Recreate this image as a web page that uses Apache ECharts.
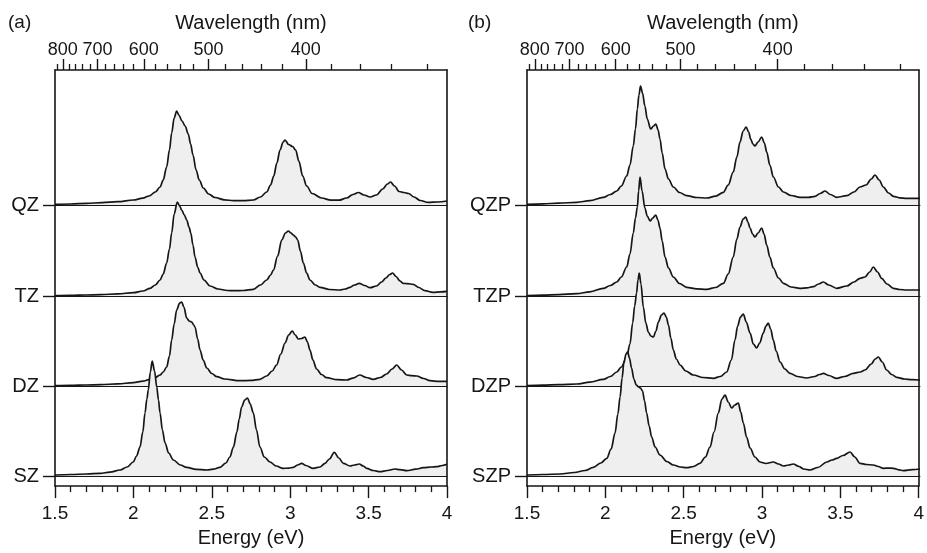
<!DOCTYPE html>
<html>
<head>
<meta charset="utf-8">
<script src="https://cdn.jsdelivr.net/npm/echarts@6/dist/echarts.min.js"></script>
<style>
  html, body { margin: 0; padding: 0; background: #fff; }
  #chart { width: 927px; height: 553px; }
</style>
</head>
<body>
<div id="chart"></div>
<script>
// ---------------- data (energy in eV, intensity in arb. units) ----------------
const energyMin = 1.5, energyMax = 4.0, energyStep = 0.5;
const majorWavelengths = [800, 700, 600, 500, 400];
const minorWavelengths = [820, 780, 760, 740, 720, 680, 660, 640, 620, 580, 560, 540, 520,
                          480, 460, 440, 420, 380, 360, 340, 320];
const namesA = ['QZ', 'TZ', 'DZ', 'SZ'];
const namesB = ['QZP', 'TZP', 'DZP', 'SZP'];

const spectrumQZ = [[1.50,0.7],[1.60,1.0],[1.70,1.6],[1.80,2.4],[1.90,3.3],[2.00,5.0],[2.06,6.8],[2.10,9],[2.14,13],[2.17,18],[2.19,25],[2.212,38],[2.23,55],[2.244,72],[2.26,87],[2.276,94],[2.29,90],[2.31,84],[2.33,79],[2.35,71],[2.365,61],[2.38,50],[2.40,35],[2.42,25],[2.446,17],[2.48,11],[2.52,7.5],[2.58,5.2],[2.64,4.3],[2.70,4.4],[2.765,5],[2.81,8],[2.85,13],[2.875,20],[2.895,29],[2.915,42],[2.935,55],[2.955,63],[2.967,65],[2.99,60.5],[3.015,58.5],[3.035,55],[3.055,44],[3.08,29],[3.105,19],[3.14,11.5],[3.20,7],[3.26,4.8],[3.31,4.8],[3.36,7],[3.40,10.5],[3.435,12.5],[3.47,10],[3.51,8],[3.55,10],[3.59,16],[3.62,21],[3.64,23],[3.665,19],[3.695,13.5],[3.725,12.5],[3.755,11.5],[3.79,8],[3.83,4.5],[3.88,2.6],[3.94,3.0],[4.00,4.0]];

const spectrumTZ = [[1.50,0.3],[1.60,0.6],[1.70,1.0],[1.79,1.3],[1.90,2.2],[2.00,3.3],[2.06,5],[2.106,7.7],[2.14,11],[2.17,16],[2.19,22],[2.212,33],[2.23,47],[2.244,63],[2.26,82],[2.28,94],[2.295,90],[2.308,86],[2.325,81],[2.34,76],[2.355,69],[2.366,63],[2.38,51],[2.393,39],[2.41,29],[2.425,23],[2.45,16],[2.489,10],[2.54,7],[2.60,5.5],[2.64,5.3],[2.70,5.5],[2.765,6.7],[2.81,11],[2.85,16],[2.875,21],[2.893,26],[2.92,40],[2.946,56],[2.97,63],[2.988,65],[3.005,63],[3.02,61],[3.035,59],[3.048,56],[3.065,45],[3.084,33],[3.105,23],[3.126,16],[3.16,11],[3.19,8.7],[3.25,6.5],[3.317,6],[3.35,7],[3.381,8.7],[3.41,11],[3.44,12.7],[3.475,10.5],[3.509,8.3],[3.55,10],[3.583,14],[3.61,18],[3.635,21.5],[3.653,23],[3.675,19.5],[3.70,15],[3.72,12.7],[3.75,12.3],[3.784,11.7],[3.82,8.5],[3.859,5.3],[3.91,3.7],[3.96,4.2],[4.00,4.7]];

const spectrumDZ = [[1.50,0.3],[1.60,0.6],[1.70,1.0],[1.79,1.3],[1.90,2.2],[2.00,3.3],[2.06,4.8],[2.106,6.7],[2.14,8.5],[2.17,11],[2.19,14],[2.212,19],[2.23,30],[2.244,46],[2.26,62],[2.276,76],[2.295,83],[2.308,84],[2.322,79],[2.34,68],[2.356,65],[2.372,64],[2.385,61],[2.393,59],[2.41,47],[2.425,36],[2.445,26],[2.468,18],[2.50,12.5],[2.532,9.3],[2.58,7],[2.68,5.3],[2.75,5.6],[2.807,6.7],[2.85,10],[2.885,15],[2.913,21],[2.94,32],[2.967,43],[2.99,51],[3.013,55],[3.032,51],[3.052,47],[3.072,47.5],[3.094,49],[3.11,44],[3.126,36],[3.145,26],[3.168,17],[3.20,11.5],[3.232,8.3],[3.30,6.3],[3.36,6],[3.40,7.8],[3.444,11],[3.485,8.5],[3.53,6.7],[3.575,8.5],[3.615,12],[3.65,17],[3.679,21],[3.71,16],[3.743,11],[3.775,10.3],[3.807,10],[3.85,7.5],[3.891,5.3],[3.95,4.6],[4.00,4.7]];

const spectrumSZ = [[1.50,1.0],[1.60,1.5],[1.70,2.0],[1.787,2.7],[1.85,3.8],[1.915,6],[1.96,9],[1.999,14],[2.02,20],[2.042,29],[2.06,44],[2.074,63],[2.086,77],[2.095,86],[2.108,104],[2.12,115],[2.135,105],[2.149,89],[2.16,76],[2.17,63],[2.185,46],[2.202,33],[2.225,23],[2.255,16],[2.30,11],[2.34,8.7],[2.40,6.6],[2.468,6],[2.51,6.8],[2.552,8.7],[2.59,13],[2.615,19],[2.638,29],[2.66,44],[2.675,57],[2.69,69],[2.71,76],[2.728,78],[2.745,72],[2.765,63],[2.785,46],[2.807,29],[2.835,19],[2.871,14],[2.91,10],[2.955,7.7],[2.99,7.8],[3.02,8.7],[3.048,11],[3.073,12.7],[3.10,10.5],[3.147,7.7],[3.19,9],[3.222,12.7],[3.25,17],[3.281,23.7],[3.31,18],[3.339,12.7],[3.381,10],[3.41,11],[3.441,12],[3.465,10],[3.488,7.7],[3.53,5.5],[3.573,4.3],[3.62,5.5],[3.668,7],[3.70,6.3],[3.743,5.3],[3.80,6.8],[3.849,8.3],[3.90,9],[3.934,9.3],[3.97,10.5],[4.00,11.7]];

const spectrumQZP = [[1.50,0.7],[1.60,1.2],[1.70,1.8],[1.816,2.7],[1.90,4.3],[1.985,7.7],[2.03,10.5],[2.071,14],[2.10,19],[2.134,29],[2.155,40],[2.176,59],[2.19,76],[2.202,96],[2.212,110],[2.222,119],[2.235,112],[2.25,99],[2.265,86],[2.287,76],[2.305,79],[2.32,81],[2.334,75],[2.346,66],[2.36,52],[2.378,36],[2.40,26],[2.431,18],[2.47,12.5],[2.516,9.3],[2.58,7.5],[2.643,7],[2.70,8.8],[2.749,12.7],[2.78,20],[2.812,33],[2.835,48],[2.855,63],[2.875,74],[2.894,78],[2.91,73],[2.923,66],[2.937,61],[2.95,59],[2.97,63],[2.993,68],[3.01,62],[3.025,53],[3.045,40],[3.067,28],[3.10,18],[3.131,13],[3.18,9.5],[3.237,7.7],[3.29,7.7],[3.332,8.7],[3.365,11.5],[3.396,14],[3.43,10.5],[3.47,7.7],[3.534,9.3],[3.58,13],[3.618,18],[3.657,20],[3.69,26],[3.714,30],[3.74,25],[3.767,18],[3.80,12],[3.831,8.7],[3.87,7.2],[3.916,6.7],[4.00,6.7]];

const spectrumTZP = [[1.50,0.3],[1.60,0.8],[1.70,1.4],[1.816,2.3],[1.90,4.2],[1.985,7.7],[2.03,10.5],[2.071,14],[2.10,19],[2.134,29],[2.155,42],[2.176,63],[2.19,78],[2.202,89],[2.21,105],[2.219,119],[2.232,105],[2.25,88],[2.265,80],[2.283,75],[2.30,78],[2.319,81],[2.333,76],[2.346,68],[2.36,55],[2.378,39],[2.40,28],[2.431,19],[2.47,12.5],[2.516,8.7],[2.58,7.2],[2.643,6.7],[2.70,8.5],[2.749,12.7],[2.78,22],[2.812,39],[2.835,57],[2.855,69],[2.875,77],[2.892,79],[2.905,74],[2.919,68],[2.935,62],[2.95,59],[2.97,63],[2.993,68],[3.008,62],[3.025,51],[3.045,39],[3.067,28],[3.10,18],[3.131,12.7],[3.18,9],[3.237,7.7],[3.28,8.2],[3.321,9.3],[3.355,12],[3.385,14],[3.42,11],[3.47,7.7],[3.534,10],[3.58,14],[3.618,17.7],[3.65,19],[3.68,24],[3.703,29],[3.73,24],[3.756,17.7],[3.79,12],[3.831,7.7],[3.87,6.5],[3.916,6],[4.00,6]];

const spectrumDZP = [[1.50,0.3],[1.60,0.8],[1.70,1.3],[1.816,2],[1.90,3.8],[1.985,6.7],[2.03,9.5],[2.071,14],[2.10,19],[2.134,29],[2.155,42],[2.172,63],[2.185,80],[2.197,93],[2.206,106],[2.214,113],[2.225,102],[2.24,79],[2.256,63],[2.272,54],[2.288,50],[2.304,49],[2.32,55],[2.336,64],[2.355,71],[2.372,73],[2.386,69],[2.40,61],[2.415,48],[2.431,36],[2.45,27],[2.474,21],[2.51,15],[2.558,11],[2.62,8.5],[2.686,7.7],[2.73,9.5],[2.77,14],[2.80,26],[2.823,46],[2.84,60],[2.858,69],[2.876,72],[2.895,64],[2.919,53],[2.94,42],[2.961,38],[2.98,43],[3.003,53],[3.02,60],[3.035,63],[3.05,57],[3.067,46],[3.085,35],[3.11,24],[3.14,17],[3.173,12.7],[3.22,9.5],[3.279,8],[3.33,9.5],[3.36,11.5],[3.385,12.7],[3.42,10.5],[3.47,7.7],[3.52,9.5],[3.576,12.7],[3.62,14],[3.65,16],[3.69,22],[3.715,27],[3.735,29],[3.76,24],[3.788,16],[3.82,11.5],[3.852,8.7],[3.90,7],[3.95,6.3],[4.00,6]];

const spectrumSZP = [[1.50,1],[1.60,1.5],[1.71,2],[1.80,3.5],[1.87,5.5],[1.922,8.7],[1.97,13],[2.007,17.7],[2.035,27],[2.06,43],[2.078,62],[2.092,79],[2.105,98],[2.116,113],[2.13,122],[2.14,124],[2.152,118],[2.165,108],[2.18,97],[2.195,91],[2.21,89],[2.222,88],[2.235,85],[2.248,75],[2.261,63],[2.277,50],[2.293,39],[2.315,29],[2.346,21],[2.39,14.5],[2.431,11],[2.476,9],[2.516,8.3],[2.56,9.5],[2.60,12.7],[2.635,19],[2.664,29],[2.69,44],[2.717,63],[2.74,77],[2.76,81],[2.78,74],[2.802,68],[2.822,71],[2.844,73],[2.86,64],[2.876,53],[2.897,39],[2.919,28],[2.95,19],[2.982,14],[3.02,12.5],[3.067,14],[3.10,12],[3.131,10],[3.165,11],[3.194,12],[3.23,9.5],[3.26,7],[3.30,6],[3.35,8.5],[3.407,14],[3.44,16],[3.47,17.7],[3.51,20.5],[3.555,24],[3.585,19],[3.618,12.7],[3.66,11.5],[3.703,11],[3.735,9.5],[3.767,7.7],[3.80,7.9],[3.831,7.7],[3.865,6.2],[3.894,5.3],[3.95,6.3],[4.00,7]];

// ---------------- layout / style ----------------
const HC = 1239.84; // eV*nm
const FONT = '"Liberation Sans", Arial, Helvetica, sans-serif';
const INK = '#161616';
const frameTop = 70, frameBottom = 493;
const baselines = [205, 296, 386, 476];
const rowHeight = 90;

const panels = [
  { label: '(a)', labelLeft: 8, left: 55, width: 392, names: namesA,
    data: [spectrumQZ, spectrumTZ, spectrumDZ, spectrumSZ] },
  { label: '(b)', labelLeft: 468, left: 527, width: 393, names: namesB,
    data: [spectrumQZP, spectrumTZP, spectrumDZP, spectrumSZP] }
];

const majorE = majorWavelengths.map(w => HC / w);
const minorE = minorWavelengths.map(w => HC / w);

const grid = [], xAxis = [], yAxis = [], series = [], graphic = [];

panels.forEach(p => {
  // frame grid
  const gFrame = grid.length;
  grid.push({ left: p.left, top: frameTop, width: p.width, height: frameBottom - frameTop });
  xAxis.push({
    gridIndex: gFrame, type: 'value', position: 'bottom', min: energyMin, max: energyMax, interval: energyStep,
    z: 6,
    axisLine: { show: true, onZero: false, lineStyle: { color: INK, width: 1.6 } },
    axisTick: { show: true, inside: false, length: 12, lineStyle: { color: INK, width: 1.4 } },
    minorTick: { show: true, splitNumber: 5, length: 6, lineStyle: { color: INK, width: 1.3 } },
    axisLabel: { show: true, fontSize: 19, margin: 18, color: INK, fontFamily: FONT },
    splitLine: { show: false },
    name: 'Energy (eV)', nameLocation: 'middle', nameGap: 41,
    nameTextStyle: { fontSize: 20, color: INK, fontFamily: FONT }
  });
  xAxis.push({
    gridIndex: gFrame, type: 'value', position: 'top', min: energyMin, max: energyMax,
    z: 6,
    axisLine: { show: true, onZero: false, lineStyle: { color: INK, width: 1.6 } },
    axisTick: { show: true, inside: false, length: 11, customValues: majorE, lineStyle: { color: INK, width: 1.4 } },
    axisLabel: { show: true, customValues: majorE, fontSize: 18, margin: 11, color: INK, fontFamily: FONT,
                 formatter: v => String(Math.round(HC / v)) },
    splitLine: { show: false },
    name: 'Wavelength (nm)', nameLocation: 'middle', nameGap: 37,
    nameTextStyle: { fontSize: 20, color: INK, fontFamily: FONT }
  });
  yAxis.push({
    gridIndex: gFrame, type: 'value', position: 'left', min: 0, max: 1, z: 6,
    axisLine: { show: true, onZero: false, lineStyle: { color: INK, width: 1.6 } },
    axisTick: { show: false }, axisLabel: { show: false }, splitLine: { show: false }
  });
  yAxis.push({
    gridIndex: gFrame, type: 'value', position: 'right', min: 0, max: 1, z: 6,
    axisLine: { show: true, onZero: false, lineStyle: { color: INK, width: 1.6 } },
    axisTick: { show: false }, axisLabel: { show: false }, splitLine: { show: false }
  });

  // minor wavelength ticks grid (same rectangle)
  const gMinor = grid.length;
  grid.push({ left: p.left, top: frameTop, width: p.width, height: frameBottom - frameTop });
  xAxis.push({
    gridIndex: gMinor, type: 'value', position: 'top', min: energyMin, max: energyMax, z: 6,
    axisLine: { show: false, onZero: false },
    axisTick: { show: true, inside: false, length: 6, customValues: minorE, lineStyle: { color: INK, width: 1.3 } },
    axisLabel: { show: false }, splitLine: { show: false }
  });
  yAxis.push({ gridIndex: gMinor, type: 'value', show: false, min: 0, max: 1,
               axisLine: { onZero: false } });

  // one row per spectrum
  p.names.forEach((name, k) => {
    const g = grid.length;
    grid.push({ left: p.left, top: baselines[k] - rowHeight, width: p.width, height: rowHeight });
    const xi = xAxis.length, yi = yAxis.length;
    xAxis.push({
      gridIndex: g, type: 'value', min: energyMin, max: energyMax, position: 'bottom',
      axisLine: { show: true, onZero: false, lineStyle: { color: INK, width: 1 } },
      axisTick: { show: false }, axisLabel: { show: false }, splitLine: { show: false }
    });
    yAxis.push({
      gridIndex: g, type: 'value', min: 0, max: rowHeight, position: 'left',
      axisLine: { show: false, onZero: false },
      axisTick: { show: true, inside: false, length: 12, customValues: [0], lineStyle: { color: INK, width: 1.4 } },
      axisLabel: { show: true, customValues: [0], margin: 16, fontSize: 20, color: INK, fontFamily: FONT,
                   formatter: () => name },
      splitLine: { show: false }
    });
    series.push({
      name: name, type: 'line', xAxisIndex: xi, yAxisIndex: yi,
      data: p.data[k], showSymbol: false, symbol: 'none',
      smooth: 0.35, smoothMonotone: 'x', clip: false,
      lineStyle: { color: INK, width: 1.7 },
      areaStyle: { color: '#efefef', opacity: 1, origin: 'start' },
      z: 2 + k
    });
  });

  graphic.push({
    type: 'text', left: p.labelLeft, top: 13,
    style: { text: p.label, font: '19px ' + FONT, fill: INK }
  });
});

const chart = echarts.init(document.getElementById('chart'), null, { renderer: 'canvas' });
chart.setOption({
  animation: false,
  backgroundColor: '#ffffff',
  grid, xAxis, yAxis, series, graphic
});
</script>
</body>
</html>
